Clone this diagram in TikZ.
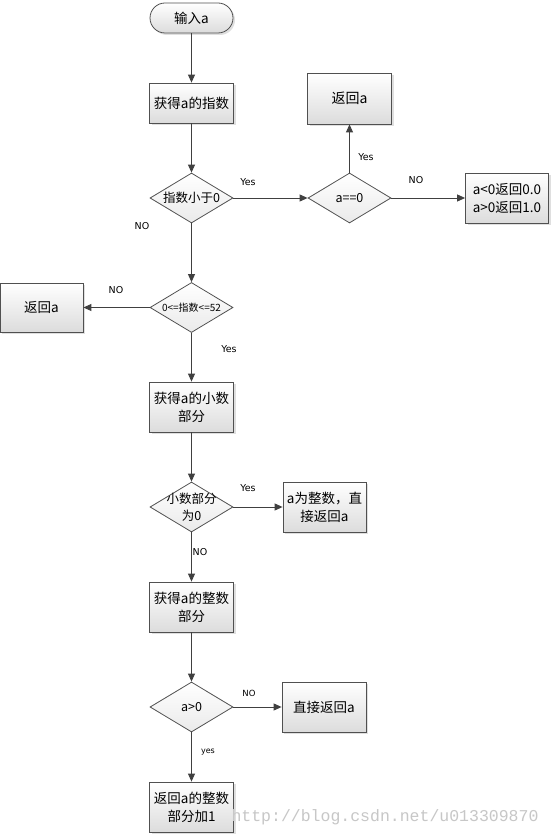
\documentclass[tikz,border=0pt]{standalone}
\usepackage{fontspec}
\setmainfont{DejaVu Sans}
\newfontfamily\cjk{Noto Sans CJK SC}
\newfontfamily\wmfont{Liberation Mono}
\usetikzlibrary{shapes.geometric,arrows.meta,shadows}
\definecolor{edge}{HTML}{404040}
\definecolor{boxline}{HTML}{505050}
\definecolor{shadeb}{HTML}{DCDCDC}
\begin{document}
\begin{tikzpicture}[x=1pt,y=-1pt,
  box/.style={rectangle,draw=boxline,line width=0.8pt,top color=white,bottom color=shadeb,
     minimum width=84pt,minimum height=50pt,inner sep=1pt,align=center,
     font=\cjk\fontsize{13.5}{18}\selectfont,
     drop shadow={shadow xshift=2pt,shadow yshift=-2pt,opacity=0.25}},
  dia/.style={diamond,draw=boxline,line width=0.8pt,top color=white,bottom color=shadeb!60,
     minimum width=83pt,minimum height=50pt,inner sep=0pt,aspect=1.66,
     font=\cjk\fontsize{12.5}{16}\selectfont},
  conn/.style={draw=edge,line width=0.9pt,-{Triangle[length=8pt,width=7pt]}},
  lab/.style={font=\fontsize{9.5}{10}\selectfont,text=black,inner sep=0pt}]
\fill[white] (0,0) rectangle (551,834);
\useasboundingbox (0,0) rectangle (551,834);
% nodes
\node[box,rounded corners=15pt,minimum width=83pt,minimum height=30pt] (start) at (191.5,18) {输入a};
\node[box,minimum height=40pt] (b1) at (191.5,103) {获得a的指数};
\node[dia] (d1) at (191.5,198) {指数小于0};
\node[dia] (d2) at (349.5,198) {a==0};
\node[box,minimum height=51pt,font=\cjk\fontsize{14}{16}\selectfont] (r1) at (349.5,98.5) {返回a};
\node[box,minimum width=83pt] (r2) at (507,198) {a<0返回0.0\\a>0返回1.0};
\node[dia,font=\cjk\fontsize{10}{11}\selectfont] (d0) at (191.5,307.5) {0<=指数<=52};
\node[box,minimum width=83pt,minimum height=49pt] (r3) at (41.5,307.5) {返回a};
\node[box] (b2) at (191.5,407) {获得a的小数\\部分};
\node[dia] (d3) at (191.5,507) {};
\node[font=\cjk\fontsize{12.5}{17}\selectfont,align=center,inner sep=0pt] (d3t) at (d3) {小数部分\\为0};
\node[box,minimum width=83pt] (r4) at (324.5,507) {a为整数，直\\接返回a};
\node[box] (b3) at (191.5,607) {获得a的整数\\部分};
\node[dia] (d4) at (191.5,707) {a>0};
\node[box] (r5) at (324,707) {直接返回a};
\node[box] (r6) at (191.5,807) {返回a的整数\\部分加1};
% connectors
\draw[conn] (start) -- (b1);
\draw[conn] (b1) -- (d1);
\draw[conn] (d1) -- (d2);
\draw[conn] (d2) -- (r1);
\draw[conn] (d2) -- (r2);
\draw[conn] (d1) -- (d0);
\draw[conn] (d0) -- (r3);
\draw[conn] (d0) -- (b2);
\draw[conn] (b2) -- (d3);
\draw[conn] (d3) -- (r4);
\draw[conn] (d3) -- (b3);
\draw[conn] (b3) -- (d4);
\draw[conn] (d4) -- (r5);
\draw[conn] (d4) -- (r6);
% labels
\node[lab] (l1) at (248,182) {Yes};
\node[lab] (l2) at (366,157) {Yes};
\node[lab] (l3) at (416,180) {NO};
\node[lab] (l4) at (142,226) {NO};
\node[lab] (l5) at (116,290) {NO};
\node[lab] (l6) at (229,349) {Yes};
\node[lab] (l7) at (248,488) {Yes};
\node[lab] (l8) at (200,552) {NO};
\node[lab,font=\fontsize{8.5}{10}\selectfont] (l9) at (249,693) {NO};
\node[lab,font=\fontsize{8}{10}\selectfont] (l10) at (208,752) {yes};
% watermark
\node[font=\wmfont\fontsize{16.5}{18}\selectfont,text=black!22,inner sep=0pt] (wm) at (385,817) {http://blog.csdn.net/u013309870};
\end{tikzpicture}
\end{document}
